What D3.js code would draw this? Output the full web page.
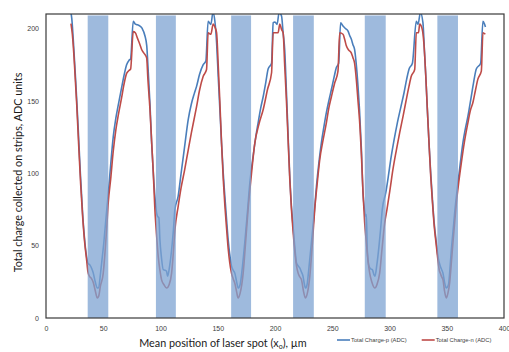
<!DOCTYPE html>
<html><head><meta charset="utf-8">
<script src="https://cdn.jsdelivr.net/npm/d3@7"></script>
<style>body{margin:0;background:#fff}svg{display:block}</style>
</head><body>
<svg id="c" width="509" height="352"></svg>
<script>
// x positions (µm) and values for Total Charge-p (ADC)
const xP = [21.5,22.5,24,26,28,30,32,34,35.5,36.5,38.4,40,41.3,43,44.8,46,47.5,48.6,50.5,52.5,54.4,56.5,58.7,61,63.1,66,68,70.4,72.5,73.9,76.2,78,80,82,84,86.4,88,89.3,90.8,92.2,93.6,95.1,96.5,97.4,98.6,99.5,100.8,102.4,104,105.3,106.2,108,109.7,111.2,112.6,115.4,118,121,124.2,127,129.5,131.5,134,137.3,139.6,141.6,144,145.8,147.5,149,150.4,151.8,153.3,154.8,156.2,157.7,159.1,160.5,162,163.5,164.9,166.5,167.8,169.5,171.5,173.6,176,178,180.9,183,185.3,187.5,189.7,192,194,197,198.4,200,201.8,203.6,205.7,207.1,208.5,210,211.5,212.9,214.3,215.8,217.3,218.8,220.2,221.6,223,224.5,225.5,226.6,228,228.9,230.3,231.8,234,236.2,238.3,240.5,242.7,244.9,247,249.3,251.5,253.6,255.6,257.3,259.4,261.5,263.8,265.3,266.7,268,269.5,271,272.5,273.8,275.5,276.9,278,279.2,279.8,280.6,282.1,283.5,285,286.4,287.3,289,290.8,292.3,293.7,296.7,299,301.1,304,306.9,310,312.7,315,317.1,320,323.4,324.9,327,329.2,330.5,331.7,333,334.5,336,337.5,339,340.9,342.3,344.4,345.5,346.7,348,349.6,351,351.7,353,354,355.5,356.9,359.8,362,364.1,366.3,368.5,371.4,373.5,375.8,379.6,381.6,383,383.8];
const chargeP = [212,207,190,163,133,100,72,52,42,38,36.5,34,31,25,20.7,21,30,38,52,70,86,106,125,138,147,159,167,175,178,179,205,203,202.5,201.7,200,195,188,170,148,122,102,84,73,70.3,69.2,54,42,33.4,33,32.2,28.8,36,47,60,75,84,100,118,137,148,155,160,168,175,177.5,205,202.8,211,205,190,167,145,121,100,84,68,54,44,36,33,31,25,20.7,23,35,52,74,93,112,124,135,145,153,163,172,176,204,204.5,202.8,211,208.6,197,185,156,125,98,78,63,49,38,36,34.6,32,28.8,24,20.7,23,28.8,40,52,70,91,107,121,132,142,150,158,166,173,176,204,201.7,200,198.2,195,192.5,189,185.5,175,160,144,116,86,76,70.3,71.5,47,35.7,34,33.4,30,28.8,37,49.5,62,75,86.4,98,109.5,123,135,146,155.6,165,172,176,205,202.8,211,204,185,167,145,121,100,82,66,52,42.6,35.7,33.5,31,25,20.7,22,24,36,47,60,72.6,93.4,108,121,131,139.4,153,163,172,176,205,203,201];
// x positions (µm) and values for Total Charge-n (ADC)
const xN = [21.8,23,24.5,26.8,28.5,30.3,32,33.8,35.5,36.6,37.8,39.5,41.3,43,44.8,46,47.5,50,51.5,53,54.4,56.5,58.7,61,63.1,66,68,70.4,72.5,73.9,76.2,78,80,82,83.5,85.5,87.9,89,90.8,92.5,93.6,95.1,96.5,98,99.5,100.9,103,105.3,107.5,109.7,111.2,112.6,115.4,118,121,124.2,127,129.5,131.5,134,137.3,140.2,141.6,144,146,147.5,149,150.4,151.8,153.3,154.8,156.2,157.7,159.1,160.5,162,163.5,164.9,166.5,167.8,169.5,172.2,174.3,176.5,179.5,182.4,186,189.7,193.5,197,198.4,200,202.7,204.2,205.7,207.1,208.5,210,211.5,212.9,214.3,215.8,217.3,218.8,220.2,221.6,223.1,225,226.6,228.5,230.4,232.5,234.7,237,239.1,242,244.9,247,249.3,252,255,256.5,259.4,261,262.3,264.5,266.7,268,269.5,271,272.5,273.8,275.5,276.9,278.3,279.8,281.2,282.7,284.5,287.1,289,291.4,293.5,295.8,297.8,300.5,303,306,308.9,312,314.7,317,319,322,323.4,325.3,326.4,328.6,330,331.7,333,334.5,336,337.5,339,340.9,342.3,343.5,344.4,345.5,346.7,348,349.6,351,352.5,354,355.4,356.9,358.4,360.5,362.7,365.5,368.5,370.5,372.9,375,377.2,380.2,381.6,383.7];
const chargeN = [203.3,196,180,148,120,92,70,52,40,32,29,27.5,24.5,19,13.8,15,22,31,45,62,80,96,115,130,140,152,161,169,171,172,197.8,197,193,189,185.5,183,179.8,165,144,118,102,75,58,42.6,33,26.5,23,20.7,23,31,45,61,77,90,102,116,128,138,146,157,167,171.7,197,196,203,201,197,175,150,121,96,78,62,48,38,31,27,24,18,13.8,17,31,52,75,100,121,134,144,158,169.4,197,197,197,203,199.4,197,174,150,122,96,76,60,46,36,31,28.5,26.5,18,13.8,18,28.8,50,75,94,109.5,123,135,145,153,162,170.5,197,196,192,188,185,183,180,176,165,150,137,112,86,66,52,40,31,25,20.7,23,31,48,65.7,75,89,102.6,116,128,140,151,160,167,171.7,197,197,203,199.4,190,167,145,121,98,80,64,50,40,33,31,28.5,26.5,19,13.8,17,24,38,52,66,79.5,94,107,122,135,143,149,157,165,170.5,197,196];
// shaded strip regions (µm)
const stripStart = [36.4, 96, 161.7, 215.8, 278.4, 341.8];
const stripEnd   = [54.4, 113.4, 179.1, 233.9, 296.7, 359.8];
const stripTop = 209;
const xTicks = [0,50,100,150,200,250,300,350,400];
const yTicks = [0,50,100,150,200];
const seriesNames = ["Total Charge-p (ADC)", "Total Charge-n (ADC)"];
const seriesColors = ["#4a7ebb", "#be4b48"];

const svg = d3.select("#c");
const L = 46, R = 504, T = 14, B = 318;
const x = d3.scaleLinear().domain([0,400]).range([L,R]);
const y = d3.scaleLinear().domain([0,210]).range([B,T]);

svg.append("defs").append("clipPath").attr("id","clip")
  .append("rect").attr("x",L).attr("y",T).attr("width",R-L).attr("height",B-T);

const g = svg.append("g").attr("clip-path","url(#clip)");
const line = d3.line().x(d=>x(d[0])).y(d=>y(d[1])).curve(d3.curveMonotoneX);
const pData = xP.map((v,i)=>[v,chargeP[i]]);
const nData = xN.map((v,i)=>[v,chargeN[i]]);
g.append("path").datum(pData).attr("d",line).attr("fill","none")
  .attr("stroke",seriesColors[0]).attr("stroke-width",1.6).attr("stroke-linejoin","round");
g.append("path").datum(nData).attr("d",line).attr("fill","none")
  .attr("stroke",seriesColors[1]).attr("stroke-width",1.6).attr("stroke-linejoin","round");

// strips over the lines (semi-transparent)
g.selectAll("rect.strip").data(stripStart).enter().append("rect").attr("class","strip")
  .attr("x",(d)=>x(d)).attr("width",(d,i)=>x(stripEnd[i])-x(d))
  .attr("y",y(stripTop)).attr("height",y(0)-y(stripTop))
  .attr("fill","#7ea3d2").attr("fill-opacity",0.75);

// frame
svg.append("rect").attr("x",L).attr("y",T).attr("width",R-L).attr("height",B-T)
  .attr("fill","none").attr("stroke","#3a3a3a").attr("stroke-width",1.2);

// axes
const xAxis = d3.axisBottom(x).tickValues(xTicks).tickSize(0).tickPadding(8);
const yAxis = d3.axisLeft(y).tickValues(yTicks).tickSize(0).tickPadding(7);
const gx = svg.append("g").attr("transform",`translate(0,${B})`).call(xAxis);
const gy = svg.append("g").attr("transform",`translate(${L},0)`).call(yAxis);
[gx,gy].forEach(a=>{
  a.select(".domain").remove();
  a.selectAll("text").attr("font-family","Liberation Sans, Arial, sans-serif")
    .attr("font-size",7).attr("fill","#404040");
});

// titles
svg.append("text").attr("x",223).attr("y",346.5).attr("text-anchor","middle")
  .attr("font-family","Lato, Open Sans, sans-serif").attr("font-size",10.8).attr("fill","#1a1a1a")
  .html('Mean position of laser spot (x<tspan dy="2.5" font-size="7">o</tspan><tspan dy="-2.5">), µm</tspan>');
svg.append("text").attr("transform","translate(22,172.5) rotate(-90)").attr("text-anchor","middle")
  .attr("font-family","Lato, Open Sans, sans-serif").attr("font-size",10.8).attr("fill","#1a1a1a")
  .text("Total charge collected on strips, ADC units");

// legend
const legX = [337, 421.7];
seriesNames.forEach((s,i)=>{
  svg.append("line").attr("x1",legX[i]).attr("x2",legX[i]+13).attr("y1",340).attr("y2",340)
    .attr("stroke",seriesColors[i]).attr("stroke-width",1.6);
  svg.append("text").attr("x",legX[i]+14).attr("y",342).attr("font-family","Liberation Sans, Arial, sans-serif")
    .attr("font-size",5.8).attr("fill","#404040").text(s);
});
</script>
</body></html>
